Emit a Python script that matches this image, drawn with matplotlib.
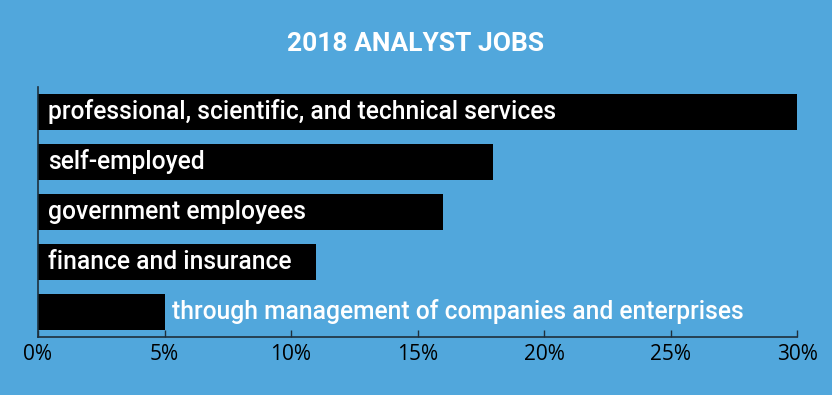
import matplotlib
matplotlib.use("Agg")
from matplotlib import pyplot as plt

# data
categories = [
    "professional, scientific, and technical services",
    "self-employed",
    "government employees",
    "finance and insurance",
    "through management of companies and enterprises",
]
shares = [30, 18, 16, 11, 5]
ticks = [0, 5, 10, 15, 20, 25, 30]
tick_labels = ["0%", "5%", "10%", "15%", "20%", "25%", "30%"]

bg = "#51A7DC"

fig = plt.figure(figsize=(8.32, 3.95), dpi=100)
fig.patch.set_facecolor(bg)
ax = fig.add_axes([38 / 832, 58 / 395, (797 - 38) / 832, 250 / 395])
ax.set_facecolor(bg)

ypos = list(range(len(categories)))
ax.barh(ypos, shares, height=0.72, color="black")
ax.set_ylim(len(categories) - 0.5, -0.5)
ax.set_xlim(0, 30)

for y, v, name in zip(ypos, shares, categories):
    x = 0.4 if v > 10 else v + 0.28
    ax.text(x, y, name, color="white", fontsize=17.7, family="Roboto",
            fontweight="medium", va="center", ha="left")

ax.set_xticks(ticks)
ax.set_xticklabels(tick_labels, fontsize=15, family="Open Sans", color="black")
ax.set_yticks([])
ax.tick_params(axis="x", direction="in", length=5, width=1, color="#1e2f3c", pad=5)
for s in ["top", "right"]:
    ax.spines[s].set_visible(False)
for s in ["left", "bottom"]:
    ax.spines[s].set_color("#1e2f3c")
    ax.spines[s].set_linewidth(1.2)

fig.text(0.5, 1 - 44 / 395, "2018 ANALYST JOBS", color="white", fontsize=19,
         fontweight="bold", family="Roboto", ha="center", va="center")

fig.savefig("out.png", dpi=100, facecolor=bg)
